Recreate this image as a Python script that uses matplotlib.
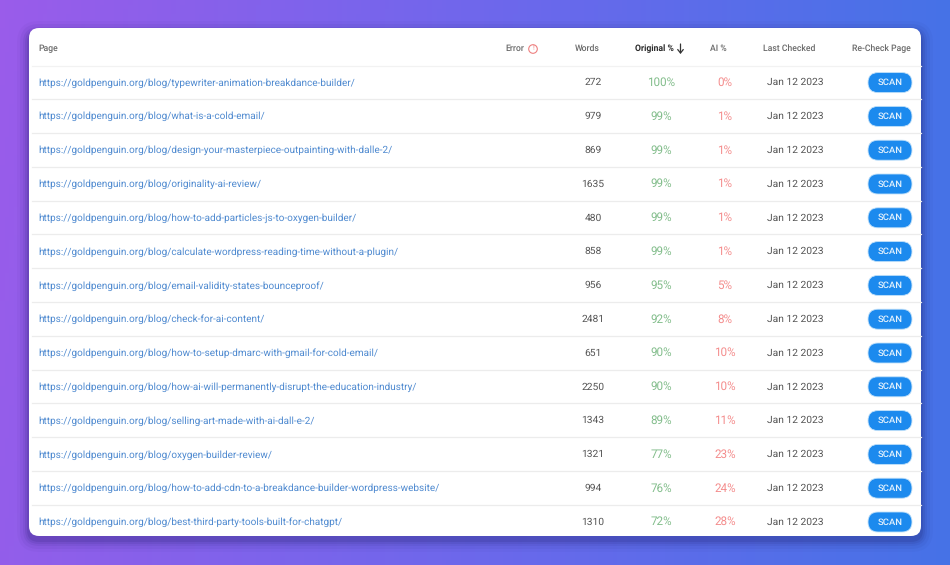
import matplotlib
matplotlib.use('Agg')
import matplotlib.pyplot as plt
from matplotlib.patches import FancyBboxPatch, Circle
from matplotlib.colors import LinearSegmentedColormap
import numpy as np

# table data
slugs = ['typewriter-animation-breakdance-builder', 'what-is-a-cold-email',
         'design-your-masterpiece-outpainting-with-dalle-2', 'originality-ai-review',
         'how-to-add-particles-js-to-oxygen-builder', 'calculate-wordpress-reading-time-without-a-plugin',
         'email-validity-states-bounceproof', 'check-for-ai-content',
         'how-to-setup-dmarc-with-gmail-for-cold-email', 'how-ai-will-permanently-disrupt-the-education-industry',
         'selling-art-made-with-ai-dall-e-2', 'oxygen-builder-review',
         'how-to-add-cdn-to-a-breakdance-builder-wordpress-website', 'best-third-party-tools-built-for-chatgpt']
words = [272, 979, 869, 1635, 480, 858, 956, 2481, 651, 2250, 1343, 1321, 994, 1310]
original = [100, 99, 99, 99, 99, 99, 95, 92, 90, 90, 89, 77, 76, 72]
ai = [0, 1, 1, 1, 1, 1, 5, 8, 10, 10, 11, 23, 24, 28]
checked = 'Jan 12 2023'

plt.rcParams['font.family'] = ['Roboto', 'DejaVu Sans']
plt.rcParams['text.hinting'] = 'no_hinting'

fig = plt.figure(figsize=(9.5, 5.65), dpi=100)
ax = fig.add_axes([0, 0, 1, 1])
ax.set_xlim(0, 950)
ax.set_ylim(565, 0)
ax.axis('off')

# gradient background
cmap = LinearSegmentedColormap.from_list('bg', ['#9a5cea', '#6c68ec', '#3f74e6'])
gx, gy = np.meshgrid(np.linspace(0, 1, 200), np.linspace(0, 1, 120))
ax.imshow(gx * 0.92 + gy * 0.08 - 0.08 * gy * gx, cmap=cmap, extent=(0, 950, 565, 0),
          aspect='auto', vmin=0, vmax=1, zorder=0)

# card shadow
for grow, alpha in zip([12, 9, 6, 4, 2], [0.03, 0.05, 0.07, 0.09, 0.12]):
    ax.add_patch(FancyBboxPatch((29 - grow, 29 + 4 - grow), 892 + 2 * grow, 507 + 2 * grow,
                                boxstyle='round,pad=0,rounding_size=%d' % (10 + grow),
                                fc='#1a1a60', ec='none', alpha=alpha, zorder=1))
ax.add_patch(FancyBboxPatch((29, 28), 892, 508, boxstyle='round,pad=0,rounding_size=10',
                            fc='white', ec='none', zorder=2))

# header
hc = '#6a6a6a'
hs = 6.2
ax.text(38.5, 48.5, 'Page', fontsize=hs, color=hc, va='center', weight='medium', zorder=3)
ax.text(505.5, 48.5, 'Error', fontsize=hs, color=hc, va='center', weight='medium', zorder=3)
ax.add_patch(Circle((533, 49), 4.3, fc='none', ec='#ee8080', lw=0.8, zorder=3))
ax.text(533, 49, '!', fontsize=5, color='#ee8080', va='center', ha='center', zorder=3)
ax.text(587, 48.5, 'Words', fontsize=hs, color=hc, va='center', ha='center', weight='medium', zorder=3)
ax.text(635, 48.5, 'Original %', fontsize=hs, color='#2a2a2a', va='center', weight='bold', zorder=3)
ax.annotate('', xy=(680.5, 54), xytext=(680.5, 44), zorder=3,
            arrowprops=dict(arrowstyle='->,head_width=0.2,head_length=0.25', color='#333333', lw=0.9,
                            shrinkA=0, shrinkB=0))
ax.text(718.5, 48.5, 'AI %', fontsize=hs, color=hc, va='center', ha='center', weight='medium', zorder=3)
ax.text(789, 48.5, 'Last Checked', fontsize=hs, color=hc, va='center', ha='center', weight='medium', zorder=3)
ax.text(911, 48.5, 'Re-Check Page', fontsize=hs, color=hc, va='center', ha='right', weight='medium', zorder=3)

# rows
row_h = 33.8
top = 82.6
ax.plot([32, 921], [65.6, 65.6], color='#f2f2f2', lw=0.9, zorder=3)
for i, slug in enumerate(slugs):
    y = top + i * row_h
    if i < len(slugs) - 1:
        ax.plot([32, 921], [y + 16.5, y + 16.5], color='#ececec', lw=0.9, zorder=3)
    ax.text(38, y + 0.3, 'https://goldpenguin.org/blog/%s/' % slug, fontsize=7.17, color='#4f8ad0',
            va='center', zorder=3)
    ax.text(593, y, str(words[i]), fontsize=7.4, color='#555555', va='center', ha='center', zorder=3)
    ax.text(661, y, '%d%%' % original[i], fontsize=8.4, color='#82bd8b', va='center', ha='center', zorder=3)
    ax.text(725, y, '%d%%' % ai[i], fontsize=8.4, color='#f48c8c', va='center', ha='center', zorder=3)
    ax.text(795.5, y, checked, fontsize=7.4, color='#555555', va='center', ha='center', zorder=3)
    ax.add_patch(FancyBboxPatch((868, y - 10), 44, 20, boxstyle='round,pad=0,rounding_size=10',
                                fc='#1c8aee', ec='#bfe0fa', lw=0.6, zorder=3))
    ax.text(890.5, y, 'SCAN', fontsize=6.8, color='#e4f2fd', va='center', ha='center',
            weight='medium', zorder=4)

fig.savefig('out.png', dpi=100)
